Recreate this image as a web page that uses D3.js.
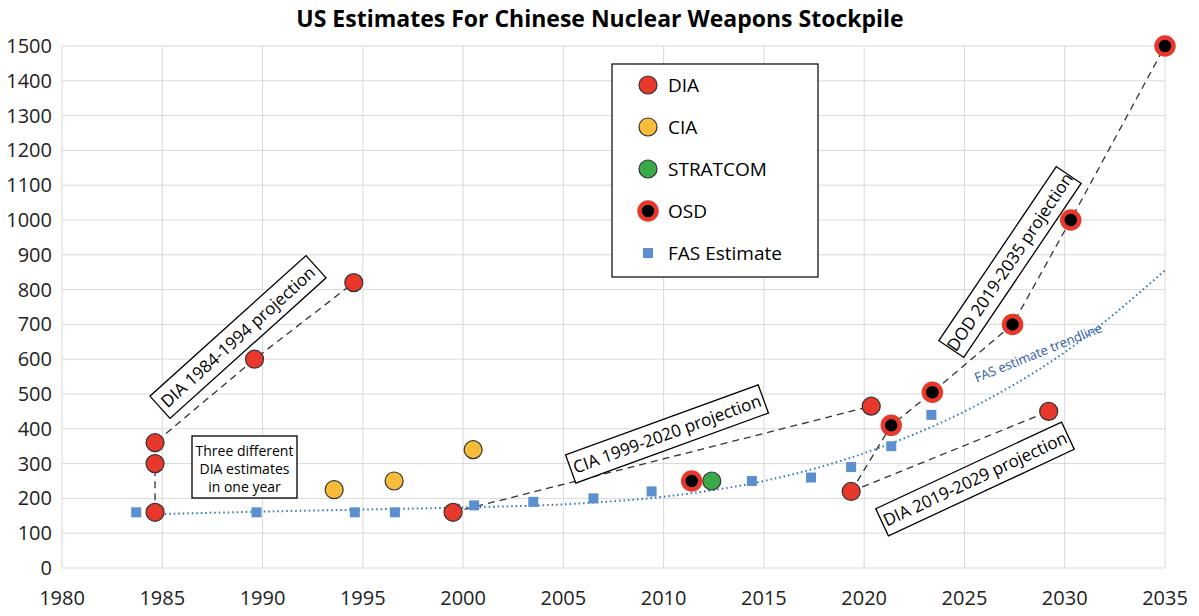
<!DOCTYPE html><html><head><meta charset="utf-8">
<script src="https://cdn.jsdelivr.net/npm/d3@7"></script>
<style>body{margin:0;background:#fff;font-family:"Open Sans",Arial,sans-serif}</style></head><body>
<svg id="c" width="1199" height="616"></svg>
<script>
const xTicks=[1980,1985,1990,1995,2000,2005,2010,2015,2020,2025,2030,2035];
const yTicks=d3.range(0,1501,100);
const diaYears=[1984.64,1984.64,1984.64,1989.6,1994.55,1999.5,2020.35,2019.35,2029.2];
const diaVals=[360,300,160,600,820,160,465,220,450];
const ciaYears=[1993.57,1996.56,2000.5];
const ciaVals=[225,250,340];
const stratYears=[2012.4];
const stratVals=[250];
const osdYears=[2011.4,2021.35,2023.4,2027.4,2030.3,2035];
const osdVals=[250,410,505,700,1000,1500];
const fasYears=[1983.7,1989.7,1994.6,1996.6,1999.6,2000.55,2003.5,2006.5,2009.4,2014.4,2017.35,2019.35,2021.35,2023.35];
const fasVals=[160,160,160,160,170,180,190,200,220,250,260,290,350,440];
const trendYears=[1984.9,1990,1995,2000,2005,2010,2015,2020,2025,2030,2035];
const trendVals=[155,162,168,174,183,205,250,330,450,620,855];
const proj={
 dia84:[[1984.64,160],[1984.64,360],[1989.6,600],[1994.55,820]],
 cia99:[[1999.5,160],[2020.35,465]],
 dia19:[[2019.35,220],[2029.2,450]],
 dod19:[[2019.35,220],[2021.35,410],[2023.4,505],[2027.4,700],[2030.3,1000],[2035,1500]]
};
const svg=d3.select("#c");
const x=d3.scaleLinear().domain([1980,2035]).range([62,1165]);
const y=d3.scaleLinear().domain([0,1500]).range([568,46]);
svg.append("text").attr("x",600).attr("y",27).attr("text-anchor","middle").attr("font-size",23).attr("font-weight","bold").text("US Estimates For Chinese Nuclear Weapons Stockpile");
const g=svg.append("g");
g.selectAll(".h").data(yTicks).join("line").attr("x1",62).attr("x2",1165).attr("y1",d=>y(d)).attr("y2",d=>y(d)).attr("stroke","#d9d9d9");
g.selectAll(".v").data(xTicks).join("line").attr("y1",46).attr("y2",568).attr("x1",d=>x(d)).attr("x2",d=>x(d)).attr("stroke","#d9d9d9");
g.selectAll(".yl").data(yTicks).join("text").attr("x",52).attr("y",d=>y(d)+7).attr("text-anchor","end").attr("font-size",20).attr("fill","#222").text(d=>d);
g.selectAll(".xl").data(xTicks).join("text").attr("x",d=>x(d)).attr("y",605).attr("text-anchor","middle").attr("font-size",20).attr("fill","#222").text(d=>d);
svg.append("path").datum(trendYears.map((t,i)=>[t,trendVals[i]])).attr("d",d3.line().x(d=>x(d[0])).y(d=>y(d[1])).curve(d3.curveMonotoneX)).attr("fill","none").attr("stroke","#2e75b6").attr("stroke-width",2).attr("stroke-dasharray","1.5,3");
const ln=d3.line().x(d=>x(d[0])).y(d=>y(d[1]));
Object.values(proj).forEach(p=>svg.append("path").attr("d",ln(p)).attr("fill","none").attr("stroke","#333").attr("stroke-width",1.3).attr("stroke-dasharray","7,5"));
svg.selectAll(".f").data(fasYears).join("rect").attr("x",(d)=>x(d)-5).attr("y",(d,i)=>y(fasVals[i])-5).attr("width",10).attr("height",10).attr("fill","#5b8fd0");
function circ(ys,vs,fill){svg.append("g").selectAll("circle").data(ys).join("circle").attr("cx",d=>x(d)).attr("cy",(d,i)=>y(vs[i])).attr("r",9).attr("fill",fill).attr("stroke","#333").attr("stroke-width",1.2);}
circ(diaYears,diaVals,"#e8382c");circ(ciaYears,ciaVals,"#f7bd3a");circ(stratYears,stratVals,"#3aaa48");
svg.append("g").selectAll("circle").data(osdYears).join("circle").attr("cx",d=>x(d)).attr("cy",(d,i)=>y(osdVals[i])).attr("r",8.5).attr("fill","#000").attr("stroke","#e8382c").attr("stroke-width",4.5);
const L=svg.append("g");
L.append("rect").attr("x",612).attr("y",64).attr("width",206).attr("height",213).attr("fill","#fff").attr("stroke","#000").attr("stroke-width",1.2);
const leg=[["DIA","dia"],["CIA","cia"],["STRATCOM","str"],["OSD","osd"],["FAS Estimate","fas"]];
leg.forEach((l,i)=>{const cy=85+i*42,cx=648;
 if(l[1]=="fas")L.append("rect").attr("x",cx-5).attr("y",cy-5).attr("width",10).attr("height",10).attr("fill","#5b8fd0");
 else if(l[1]=="osd")L.append("circle").attr("cx",cx).attr("cy",cy).attr("r",8.5).attr("fill","#000").attr("stroke","#e8382c").attr("stroke-width",4.5);
 else L.append("circle").attr("cx",cx).attr("cy",cy).attr("r",9).attr("fill",{dia:"#e8382c",cia:"#f7bd3a",str:"#3aaa48"}[l[1]]).attr("stroke","#333").attr("stroke-width",1.2);
 L.append("text").attr("x",668).attr("y",cy+7).attr("font-size",19).text(l[0]);});
function box(cx,cy,ang,txt,w,h){const b=svg.append("g").attr("transform",`translate(${cx},${cy}) rotate(${ang})`);
 b.append("rect").attr("x",-w/2).attr("y",-h/2).attr("width",w).attr("height",h).attr("fill","#fff").attr("stroke","#000").attr("stroke-width",1.3);
 b.append("text").attr("text-anchor","middle").attr("y",6).attr("font-size",17).text(txt);}
box(238,337,-42,"DIA 1984-1994 projection",210,30);
box(667,434,-20,"CIA 1999-2020 projection",205,30);
box(975,479,-25,"DIA 2019-2029 projection",205,30);
box(1010,262,-56,"DOD 2019-2035 projection",210,30);
const t=svg.append("g");
t.append("rect").attr("x",192).attr("y",436).attr("width",105).attr("height",62).attr("fill","#fff").attr("stroke","#000").attr("stroke-width",1.3);
["Three different","DIA estimates","in one year"].forEach((s,i)=>t.append("text").attr("x",244.5).attr("y",456+i*18).attr("text-anchor","middle").attr("font-size",14).text(s));
svg.append("text").attr("transform","translate(1040,357) rotate(-22)").attr("text-anchor","middle").attr("font-size",13).attr("fill","#2e5aa8").text("FAS estimate trendline");
</script></body></html>
